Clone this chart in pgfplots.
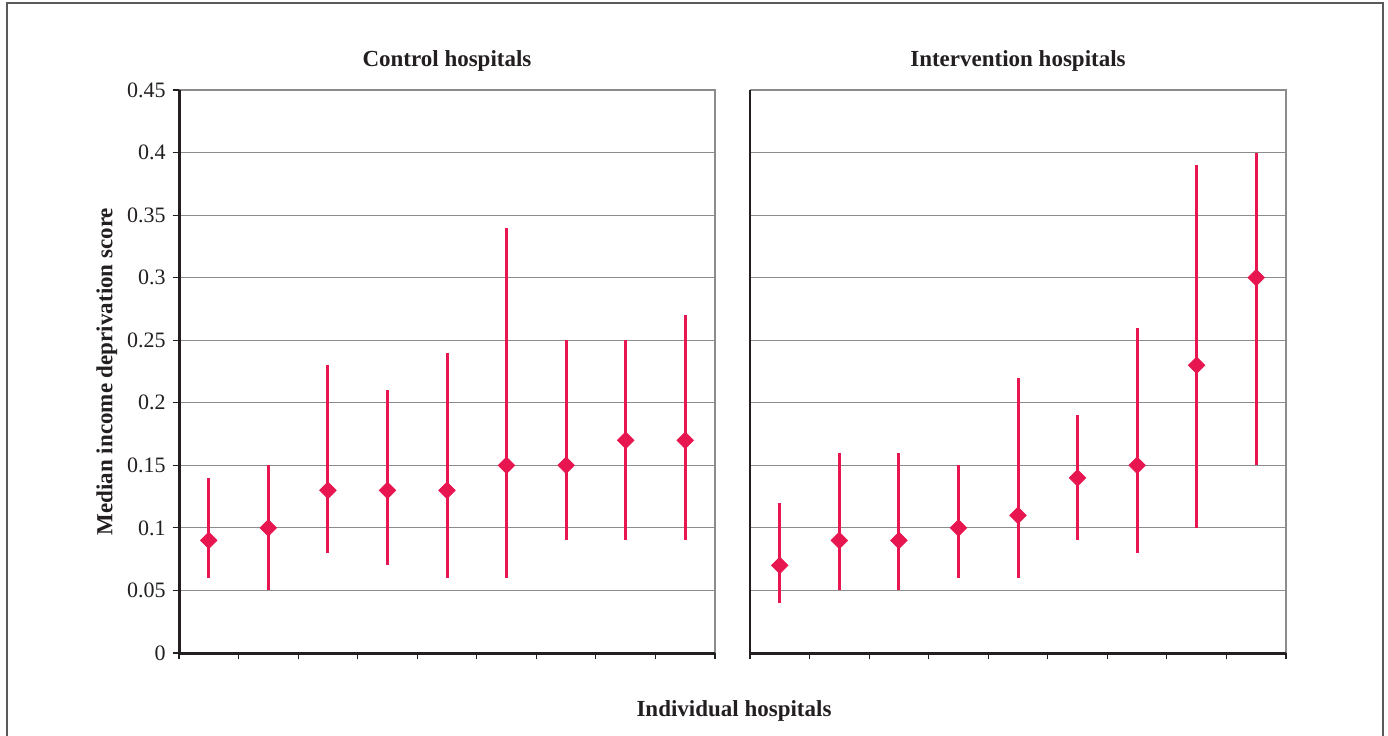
\documentclass[border=0pt]{standalone}
\usepackage{pgfplots}
\usepackage{pgfplotstable}
\pgfplotsset{compat=1.18}
\usepackage{fontspec}
\setmainfont{Liberation Serif}
\definecolor{bar}{RGB}{232,22,80}
\definecolor{txt}{RGB}{35,31,32}
\definecolor{gridc}{RGB}{140,140,140}
\pgfplotsset{
  panel/.style={
    scale only axis, width=268pt, height=281.5pt,
    xmin=0, xmax=9, ymin=0, ymax=0.45,
    xtick={0,1,...,9}, xticklabels={},
    ytick={0,0.05,0.1,0.15,0.2,0.25,0.3,0.35,0.4,0.45},
    ymajorgrids, grid style={gridc, line width=0.6pt},
    tick style={txt, line width=0.6pt},
    tick pos=left,
    xtick align=outside, ytick align=outside,
    major tick length=3.2pt,
    axis line style={draw=none},
    clip=false,
    every tick label/.style={font=\fontsize{11}{13}\selectfont, text=txt},
    title style={font=\fontsize{11.5}{14}\selectfont\bfseries, text=txt, yshift=0pt},
  },
  hosp/.style={
    only marks, color=bar,
    mark=square*, mark size=2.9pt, mark options={rotate=45, fill=bar, draw=bar},
    error bars/.cd, y dir=both, y explicit, error mark=none,
    error bar style={line width=1.5pt, color=bar},
  }
}
\pgfplotstableread{
x   y    lo    hi
0.5 0.09 0.06 0.14
1.5 0.10 0.05 0.15
2.5 0.13 0.08 0.23
3.5 0.13 0.07 0.21
4.5 0.13 0.06 0.24
5.5 0.15 0.06 0.34
6.5 0.15 0.09 0.25
7.5 0.17 0.09 0.25
8.5 0.17 0.09 0.27
}\control
\pgfplotstableread{
x   y    lo    hi
0.5 0.07 0.04 0.12
1.5 0.09 0.05 0.16
2.5 0.09 0.05 0.16
3.5 0.10 0.06 0.15
4.5 0.11 0.06 0.22
5.5 0.14 0.09 0.19
6.5 0.15 0.08 0.26
7.5 0.23 0.10 0.39
8.5 0.30 0.15 0.40
}\intervention
\begin{document}
\begin{tikzpicture}
\useasboundingbox (0,0) rectangle (694pt,367.5pt);
\draw[color={rgb,255:red,90;green,90;blue,90}, line width=1pt] (3.5pt,-5pt) -- (3.5pt,366pt) -- (691.5pt,366pt) -- (691.5pt,-5pt);
\begin{axis}[panel, at={(89.5pt,41pt)}, anchor=south west,
  title={Control hospitals},
  yticklabels={0,0.05,0.1,0.15,0.2,0.25,0.3,0.35,0.4,0.45},
  ylabel={Median income deprivation score},
  ylabel style={font=\fontsize{11.5}{14}\selectfont\bfseries, text=txt, yshift=-2pt}]
\draw[gridc, line width=1pt] (rel axis cs:0,1) -- (rel axis cs:1,1) -- (rel axis cs:1,0);
\addplot+[hosp] table[x=x, y=y, y error plus expr=\thisrow{hi}-\thisrow{y}, y error minus expr=\thisrow{y}-\thisrow{lo}] {\control};
\draw[txt, line width=1.5pt] (rel axis cs:0,1) -- (rel axis cs:0,0) -- (rel axis cs:1,0);
\end{axis}
\begin{axis}[panel, at={(375pt,41pt)}, anchor=south west,
  title={Intervention hospitals},
  yticklabels={}, ytick style={draw=none}]
\draw[gridc, line width=1pt] (rel axis cs:0,1) -- (rel axis cs:1,1) -- (rel axis cs:1,0);
\addplot+[hosp] table[x=x, y=y, y error plus expr=\thisrow{hi}-\thisrow{y}, y error minus expr=\thisrow{y}-\thisrow{lo}] {\intervention};
\draw[txt, line width=0.6pt] (rel axis cs:0,1) -- (rel axis cs:0,0);
\draw[txt, line width=1.5pt] (rel axis cs:0,0) -- (rel axis cs:1,0);
\end{axis}
\node[font=\fontsize{11.5}{14}\selectfont\bfseries, text=txt] at (367pt,12pt) {Individual hospitals};
\end{tikzpicture}
\end{document}
